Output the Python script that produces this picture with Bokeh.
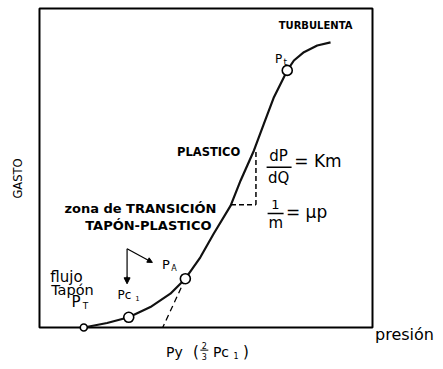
from bokeh.plotting import figure
from bokeh.models import Range1d, Arrow, NormalHead
from bokeh.core.properties import value
from bokeh.embed import file_html
from bokeh.resources import INLINE

# Flow curve: rate (GASTO) versus pressure (PRESIÓN), both in 0..10 units
curve_x = [1.33, 2.03, 2.68, 3.33, 3.93, 4.38, 4.83, 5.23, 5.74, 6.04, 6.44, 6.74, 7.04, 7.44, 7.64, 7.94, 8.34, 8.74]
curve_y = [0.00, 0.14, 0.32, 0.64, 1.06, 1.53, 2.20, 2.94, 3.82, 4.61, 5.55, 6.39, 7.22, 8.06, 8.37, 8.63, 8.84, 8.94]

# Marked points: P_T, P_c1, P_A, P_t
point_x = [1.33, 2.68, 4.38, 7.44]
point_y = [0.00, 0.32, 1.53, 8.06]
point_size = [7, 10, 10, 10]

# Extrapolation of the plastic branch down to the yield pressure Py
py_x = [4.38, 3.70]
py_y = [1.53, 0.00]

# Slope triangle on the plastic branch
tri_vx = [6.50, 6.50]
tri_vy = [5.50, 3.85]
tri_hx = [5.75, 6.50]
tri_hy = [3.85, 3.85]

x_lo, x_hi = 0, 10
y_lo, y_hi = 0, 10

FONT = value("DejaVu Sans")

p = figure(width=443, height=369, output_backend="svg", toolbar_location=None,
           x_range=Range1d(-1.171, 12.132), y_range=Range1d(-1.317, 10.251),
           x_axis_location=None, y_axis_location=None,
           min_border=0, min_border_left=0, min_border_right=0,
           min_border_top=0, min_border_bottom=0)
p.grid.visible = False
p.outline_line_color = None
p.background_fill_color = "white"
p.border_fill_color = "white"

# plotting box
p.quad(left=[x_lo], right=[x_hi], bottom=[y_lo], top=[y_hi],
       fill_color=None, line_color="black", line_width=2)

# curve
p.line(curve_x, curve_y, line_color="#111111", line_width=2.2)

# dashed constructions
p.line(py_x, py_y, line_color="black", line_width=1.3, line_dash="6 4")
p.line(tri_vx, tri_vy, line_color="black", line_width=1.5, line_dash="5 3")
p.line(tri_hx, tri_hy, line_color="black", line_width=1.5, line_dash="5 3")

# marked points
p.scatter(point_x, point_y, size=point_size, marker="circle",
          fill_color="white", line_color="black", line_width=1.6)

# P_A pointer arrows
p.line([2.63, 2.63], [2.47, 1.45], line_color="black", line_width=1.2)
p.add_layout(Arrow(x_start=2.63, y_start=1.60, x_end=2.63, y_end=1.37,
                   line_color="black", line_width=1.2,
                   end=NormalHead(size=6, fill_color="black", line_color="black")))
p.add_layout(Arrow(x_start=2.63, y_start=2.47, x_end=3.39, y_end=2.04,
                   line_color="black", line_width=1.2,
                   end=NormalHead(size=5, fill_color="black", line_color="black")))


def txt(x, y, s, size, align="center", bold=False, angle=0.0, baseline="middle"):
    p.text([x], [y], text=[s], text_font=FONT, text_font_size=f"{size}px",
           text_align=align, text_baseline=baseline, angle=angle,
           text_font_style="bold" if bold else "normal", text_color="black")


txt(8.29, 9.47, "TURBULENTA", 10, bold=True)
txt(7.18, 8.43, "P", 12)
txt(7.38, 8.33, "t", 9)
txt(5.08, 5.49, "PLASTICO", 11.5, bold=True)

# dP/dQ = Km
txt(7.18, 5.37, "dP", 15)
p.line([6.82, 7.57], [5.02, 5.02], line_color="black", line_width=1.5)
txt(7.18, 4.68, "dQ", 15)
txt(7.65, 5.22, "= Km", 17, align="left")

# 1/m = μp
txt(7.08, 3.86, "1", 13)
p.line([6.85, 7.33], [3.57, 3.57], line_color="black", line_width=1.5)
txt(7.10, 3.28, "m", 15)
txt(7.40, 3.62, "= μp", 17, align="left")

txt(3.03, 3.73, "zona de TRANSICIÓN", 13, bold=True)
txt(3.27, 3.20, "TAPÓN-PLASTICO", 13, bold=True)

# P_A
txt(3.80, 1.96, "P", 13)
txt(4.04, 1.86, "A", 8)

# flujo tapón
txt(0.81, 1.57, "flujo", 15)
txt(0.99, 1.19, "Tapón", 14.5)
txt(1.10, 0.80, "P", 15)
txt(1.38, 0.68, "T", 9)

# P_c1
txt(2.55, 1.03, "Pc", 12)
txt(2.94, 0.92, "1", 7)

# Py (2/3 Pc1)
txt(4.05, -0.76, "Py", 14)
txt(4.70, -0.76, "(", 15)
txt(4.95, -0.56, "2", 8)
p.line([4.83, 5.07], [-0.71, -0.71], line_color="black", line_width=1)
txt(4.95, -0.90, "3", 8)
txt(5.45, -0.76, "Pc", 14)
txt(5.90, -0.88, "1", 8)
txt(6.20, -0.76, ")", 15)

txt(10.96, -0.22, "presión", 16)
txt(-0.66, 4.67, "GASTO", 11.5, angle=1.5708)

open("out.html", "w").write(file_html(p, INLINE))
